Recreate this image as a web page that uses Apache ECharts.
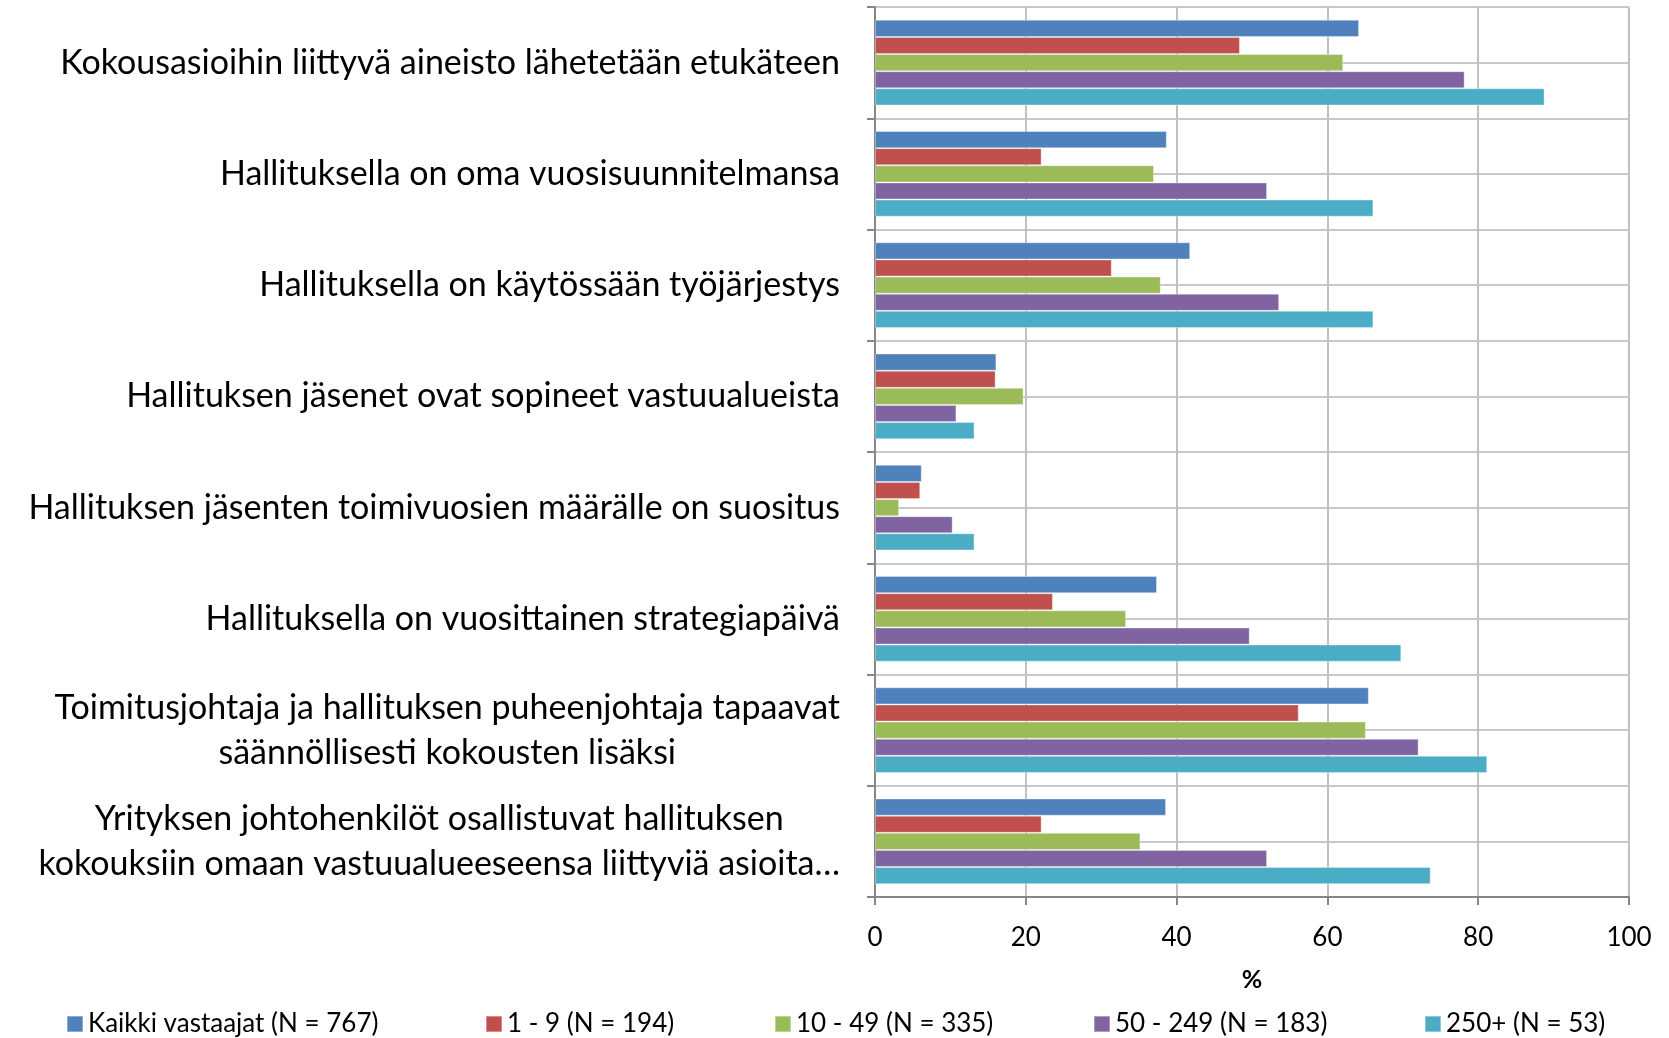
<!DOCTYPE html>
<html>
<head>
<meta charset="utf-8">
<script src="https://cdn.jsdelivr.net/npm/echarts@6/dist/echarts.min.js"></script>
<style>
  html, body { margin: 0; padding: 0; background: #fff; }
  #chart { width: 1669px; height: 1038px; }
</style>
</head>
<body>
<div id="chart"></div>
<script>
// kategoriat (ylhäältä alas)
var categories = [
  "Kokousasioihin liittyvä aineisto lähetetään etukäteen",
  "Hallituksella on oma vuosisuunnitelmansa",
  "Hallituksella on käytössään työjärjestys",
  "Hallituksen jäsenet ovat sopineet vastuualueista",
  "Hallituksen jäsenten toimivuosien määrälle on suositus",
  "Hallituksella on vuosittainen strategiapäivä",
  "Toimitusjohtaja ja hallituksen puheenjohtaja tapaavat\nsäännöllisesti kokousten lisäksi",
  "Yrityksen johtohenkilöt osallistuvat hallituksen\nkokouksiin omaan vastuualueeseensa liittyviä asioita…"
];

var seriesNames = [
  "Kaikki vastaajat (N = 767)",
  "1 - 9 (N = 194)",
  "10 - 49 (N = 335)",
  "50 - 249 (N = 183)",
  "250+ (N = 53)"
];

var kaikki   = [64.2, 38.7, 41.8, 16.1, 6.2, 37.4, 65.5, 38.6];
var koko1_9  = [48.4, 22.1, 31.4, 16.0, 6.0, 23.6, 56.2, 22.1];
var koko10_49 = [62.1, 37.0, 37.9, 19.7, 3.2, 33.3, 65.1, 35.2];
var koko50_249 = [78.2, 52.0, 53.6, 10.8, 10.3, 49.7, 72.1, 52.0];
var koko250 = [88.8, 66.1, 66.1, 13.2, 13.2, 69.8, 81.2, 73.7];

var xTicks = [0, 20, 40, 60, 80, 100];

var colors = ['#4F81BD', '#C0504D', '#9BBB59', '#8064A2', '#4BACC6'];
var allData = [kaikki, koko1_9, koko10_49, koko50_249, koko250];

var chart = echarts.init(document.getElementById('chart'));

var font = 'Lato, "Open Sans", sans-serif';
var legendLeft = [66, 485, 774, 1093, 1424];

var option = {
  animation: false,
  backgroundColor: '#fff',
  grid: { left: 875, right: 40, top: 7, bottom: 141, containLabel: false },
  xAxis: {
    type: 'value',
    min: xTicks[0],
    max: xTicks[xTicks.length - 1],
    interval: 20,
    name: '%',
    nameLocation: 'middle',
    nameGap: 70,
    nameTextStyle: { fontSize: 25, fontWeight: 'bold', fontFamily: font, color: '#000' },
    axisLine: { show: true, lineStyle: { color: '#868686', width: 2 } },
    axisTick: { show: true, length: 8, lineStyle: { color: '#868686', width: 2 } },
    axisLabel: { fontSize: 26, fontFamily: font, color: '#000', margin: 28 },
    splitLine: { show: true, lineStyle: { color: '#c0c0c0', width: 2 } }
  },
  yAxis: [
    {
      type: 'category',
      data: categories,
      inverse: true,
      axisLine: { show: true, lineStyle: { color: '#868686', width: 2 } },
      axisTick: { show: true, length: 8, lineStyle: { color: '#868686', width: 2 } },
      splitLine: { show: false },
      axisLabel: {
        margin: 35,
        fontSize: 34,
        fontFamily: font,
        color: '#000',
        lineHeight: 45,
        formatter: function (v) {
          return v.split('\n').map(function (s) { return '{c|' + s + '}'; }).join('\n');
        },
        rich: {
          c: { align: 'center', fontSize: 34, fontFamily: font, color: '#000', lineHeight: 45 }
        }
      }
    },
    {
      // apuakseli: vaakaviivat kategorioiden rajoilla ja keskellä
      type: 'value',
      min: 0,
      max: 16,
      interval: 1,
      position: 'left',
      axisLine: { show: false },
      axisTick: { show: false },
      axisLabel: { show: false },
      splitLine: { show: true, lineStyle: { color: '#c8c8c8', width: 2 } }
    }
  ],
  legend: seriesNames.map(function (n, i) {
    return {
      data: [n],
      left: legendLeft[i],
      top: 1011,
      padding: 0,
      itemWidth: 16,
      itemHeight: 16,
      itemGap: 6,
      icon: 'rect',
      textStyle: { fontSize: 26, fontFamily: font, color: '#000' }
    };
  }),
  series: seriesNames.map(function (n, i) {
    return {
      name: n,
      type: 'bar',
      yAxisIndex: 0,
      data: allData[i],
      barGap: '0%',
      barCategoryGap: '23%',
      itemStyle: { color: colors[i], borderColor: 'rgba(255,255,255,0.35)', borderWidth: 1 }
    };
  })
};

chart.setOption(option);
</script>
</body>
</html>
